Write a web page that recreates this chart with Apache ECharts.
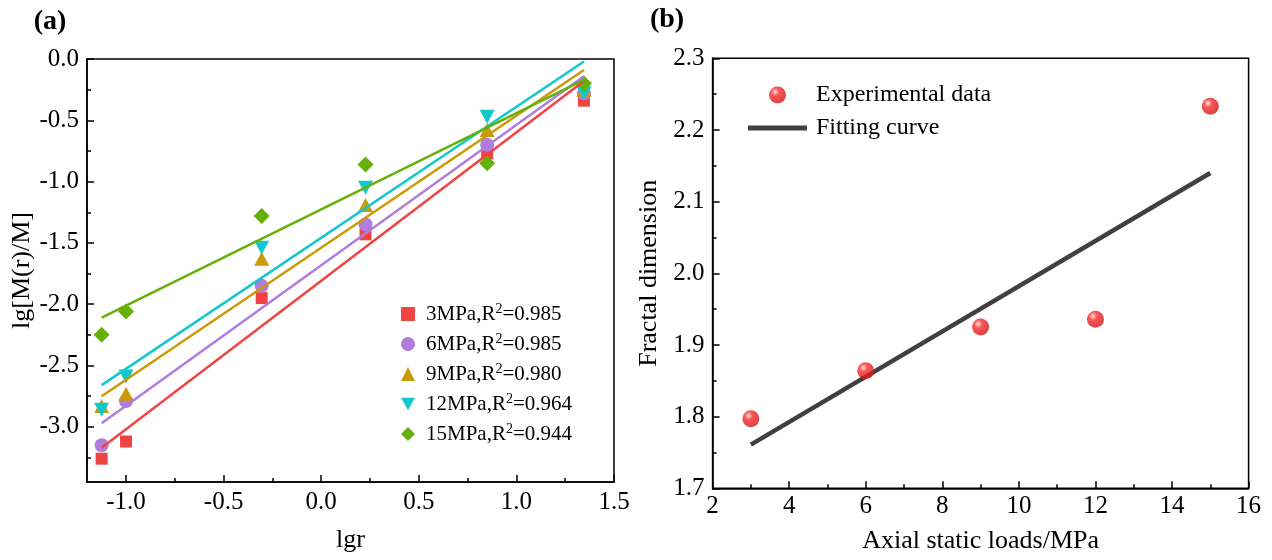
<!DOCTYPE html>
<html>
<head>
<meta charset="utf-8">
<script src="https://cdn.jsdelivr.net/npm/echarts@6/dist/echarts.min.js"></script>
<style>html,body{margin:0;padding:0;background:#fff}#c{width:1272px;height:560px}</style>
</head>
<body>
<div id="c"></div>
<script>
// ---------- data: panel (a) ----------
const lgr = [-1.125, -1.0, -0.305, 0.227, 0.850, 1.346];
const seriesNames = ['3MPa', '6MPa', '9MPa', '12MPa', '15MPa'];
const r2Values = ['0.985', '0.985', '0.980', '0.964', '0.944'];
const s3 = [-3.26, -3.12, -1.95, -1.43, -0.77, -0.34];
const s6 = [-3.15, -2.79, -1.85, -1.35, -0.70, -0.28];
const s9 = [-2.83, -2.73, -1.63, -1.19, -0.58, -0.25];
const s12 = [-2.86, -2.59, -1.54, -1.05, -0.47, -0.28];
const s15 = [-2.25, -2.06, -1.28, -0.86, -0.85, -0.20];
const fitX = [-1.125, 1.346];
const fit3 = [-3.17, -0.18];
const fit6 = [-2.97, -0.14];
const fit9 = [-2.75, -0.09];
const fit12 = [-2.66, -0.02];
const fit15 = [-2.11, -0.17];
const aXTicks = [-1.0, -0.5, 0.0, 0.5, 1.0, 1.5];
const aXMinor = [-0.75, -0.25, 0.25, 0.75, 1.25];
const aYTicks = [0.0, -0.5, -1.0, -1.5, -2.0, -2.5, -3.0];
const aYMinor = [-0.25, -0.75, -1.25, -1.75, -2.25, -2.75, -3.25];

// ---------- data: panel (b) ----------
const loads = [3, 6, 9, 12, 15];
const fractalDim = [1.797, 1.864, 1.925, 1.936, 2.233];
const fitLoads = [3, 15];
const fitFD = [1.761, 2.140];

const FONT = '"Times New Roman","Liberation Serif",serif';
const colors = ['#F04444', '#B07CDE', '#CC9A06', '#12C8CC', '#66B00C'];
const symbols = ['rect', 'circle', 'triangle', 'path://M0,0L10,0L5,9Z', 'diamond'];
const symSizes = [12, 14, [15, 14], [15, 14], 16];
const aSeriesData = [s3, s6, s9, s12, s15];
const aFits = [fit3, fit6, fit9, fit12, fit15];

const chart = echarts.init(document.getElementById('c'), null, {renderer: 'canvas'});

const tickLabel = {color: '#000', fontSize: 25, fontFamily: FONT};
const axisLine = {show: true, onZero: false, lineStyle: {color: '#000', width: 1.5}};

const series = [];
aSeriesData.forEach((arr, i) => {
  series.push({
    name: seriesNames[i], type: 'scatter', xAxisIndex: 0, yAxisIndex: 0,
    symbol: symbols[i], symbolSize: symSizes[i],
    itemStyle: {color: colors[i], opacity: 1},
    data: lgr.map((x, k) => [x, arr[k]]), z: 3
  });
});
aFits.forEach((arr, i) => {
  series.push({
    name: seriesNames[i] + ' fit', type: 'line', xAxisIndex: 0, yAxisIndex: 0,
    symbol: 'none', lineStyle: {color: colors[i], width: 2.5},
    data: fitX.map((x, k) => [x, arr[k]]), z: 4
  });
});
const sphere = new echarts.graphic.RadialGradient(0.36, 0.32, 0.72, [
  {offset: 0, color: '#ffffff'},
  {offset: 0.12, color: '#ff9090'},
  {offset: 0.35, color: '#f22a2a'},
  {offset: 1, color: '#d01414'}
]);
series.push({
  name: 'Experimental data', type: 'scatter', xAxisIndex: 2, yAxisIndex: 2,
  symbol: 'circle', symbolSize: 17, itemStyle: {color: sphere},
  data: loads.map((x, k) => [x, fractalDim[k]]), z: 4
});
series.push({
  name: 'Fitting curve', type: 'line', xAxisIndex: 2, yAxisIndex: 2,
  symbol: 'none', showSymbol: false, lineStyle: {color: '#404040', width: 4.5},
  itemStyle: {color: '#404040'},
  data: fitLoads.map((x, k) => [x, fitFD[k]]), z: 3
});

const option = {
  animation: false,
  backgroundColor: '#fff',
  grid: [
    {left: 87, top: 59, width: 527, height: 423, show: true, borderColor: '#000', borderWidth: 1.5, backgroundColor: 'transparent'},
    {left: 712.6, top: 58.3, width: 536, height: 430, show: true, borderColor: '#000', borderWidth: 1.5, backgroundColor: 'transparent'}
  ],
  xAxis: [
    {type: 'value', gridIndex: 0, position: 'bottom', min: -1.2, max: 1.5,
     axisLine: axisLine, splitLine: {show: false},
     axisTick: {show: true, inside: true, length: 7, lineStyle: {color: '#000', width: 1.5}, customValues: aXTicks},
     axisLabel: Object.assign({margin: 8, customValues: aXTicks, formatter: v => v.toFixed(1)}, tickLabel),
     name: 'lgr', nameLocation: 'middle', nameGap: 45,
     nameTextStyle: {color: '#000', fontSize: 26, fontFamily: FONT}},
    {type: 'value', gridIndex: 0, position: 'bottom', min: -1.2, max: 1.5,
     axisLine: {show: false, onZero: false}, splitLine: {show: false}, axisLabel: {show: false},
     axisTick: {show: true, inside: true, length: 4, lineStyle: {color: '#000', width: 1.5}, customValues: aXMinor}},
    {type: 'value', gridIndex: 1, position: 'bottom', min: 2, max: 16, interval: 2,
     axisLine: axisLine, splitLine: {show: false},
     axisTick: {show: true, inside: true, length: 7, lineStyle: {color: '#000', width: 1.5}},
     minorTick: {show: true, splitNumber: 2, length: 4, lineStyle: {color: '#000', width: 1.5}},
     axisLabel: Object.assign({margin: 6}, tickLabel),
     name: 'Axial static loads/MPa', nameLocation: 'middle', nameGap: 40,
     nameTextStyle: {color: '#000', fontSize: 26, fontFamily: FONT}}
  ],
  yAxis: [
    {type: 'value', gridIndex: 0, position: 'left', min: -3.45, max: 0,
     axisLine: axisLine, splitLine: {show: false},
     axisTick: {show: true, inside: true, length: 7, lineStyle: {color: '#000', width: 1.5}, customValues: aYTicks},
     axisLabel: Object.assign({margin: 8, customValues: aYTicks, formatter: v => v.toFixed(1)}, tickLabel),
     name: 'lg[M(r)/M]', nameLocation: 'middle', nameGap: 52,
     nameTextStyle: {color: '#000', fontSize: 26, fontFamily: FONT}},
    {type: 'value', gridIndex: 0, position: 'left', min: -3.45, max: 0,
     axisLine: {show: false, onZero: false}, splitLine: {show: false}, axisLabel: {show: false},
     axisTick: {show: true, inside: true, length: 4, lineStyle: {color: '#000', width: 1.5}, customValues: aYMinor}},
    {type: 'value', gridIndex: 1, position: 'left', min: 1.7, max: 2.3, interval: 0.1,
     axisLine: axisLine, splitLine: {show: false},
     axisTick: {show: true, inside: true, length: 7, lineStyle: {color: '#000', width: 1.5}},
     minorTick: {show: true, splitNumber: 2, length: 4, lineStyle: {color: '#000', width: 1.5}},
     axisLabel: Object.assign({margin: 8, formatter: v => v.toFixed(1)}, tickLabel),
     name: 'Fractal dimension', nameLocation: 'middle', nameGap: 50,
     nameTextStyle: {color: '#000', fontSize: 26, fontFamily: FONT}}
  ],
  legend: [
    {orient: 'vertical', left: 396, top: 297, itemWidth: 14, itemHeight: 14, itemGap: 6,
     data: seriesNames.map((n, i) => ({name: n, icon: symbols[i]})),
     formatter: name => {
       const i = seriesNames.indexOf(name);
       return '{p|' + name + ',R}{s|2}{t|=' + r2Values[i] + '}';
     },
     textStyle: {color: '#000', fontSize: 21, fontFamily: FONT, lineHeight: 24,
       rich: {
         p: {color: '#000', fontSize: 21, fontFamily: FONT, lineHeight: 24, padding: [0, 0, 0, 6]},
         s: {color: '#000', fontSize: 14, fontFamily: FONT, lineHeight: 24, verticalAlign: 'top'},
         t: {color: '#000', fontSize: 21, fontFamily: FONT, lineHeight: 24}
       }}},
    {orient: 'vertical', left: 743, top: 77, itemWidth: 59, itemHeight: 17, itemGap: 7,
     data: [
       {name: 'Experimental data', icon: 'circle'},
       {name: 'Fitting curve', icon: 'path://M0,0L59,0L59,5L0,5Z'}
     ],
     formatter: name => '{p|' + name + '}',
     textStyle: {color: '#000', fontSize: 24, fontFamily: FONT, lineHeight: 26,
       rich: {p: {color: '#000', fontSize: 24, fontFamily: FONT, lineHeight: 26, padding: [0, 0, 0, 4]}}}}
  ],
  graphic: [
    {type: 'text', x: 50, y: 22, style: {text: '(a)', fill: '#000', font: 'bold 28px "Liberation Serif", serif', textAlign: 'center', textVerticalAlign: 'middle'}},
    {type: 'text', x: 667, y: 20, style: {text: '(b)', fill: '#000', font: 'bold 28px "Liberation Serif", serif', textAlign: 'center', textVerticalAlign: 'middle'}}
  ],
  series: series
};
chart.setOption(option);
</script>
</body>
</html>
